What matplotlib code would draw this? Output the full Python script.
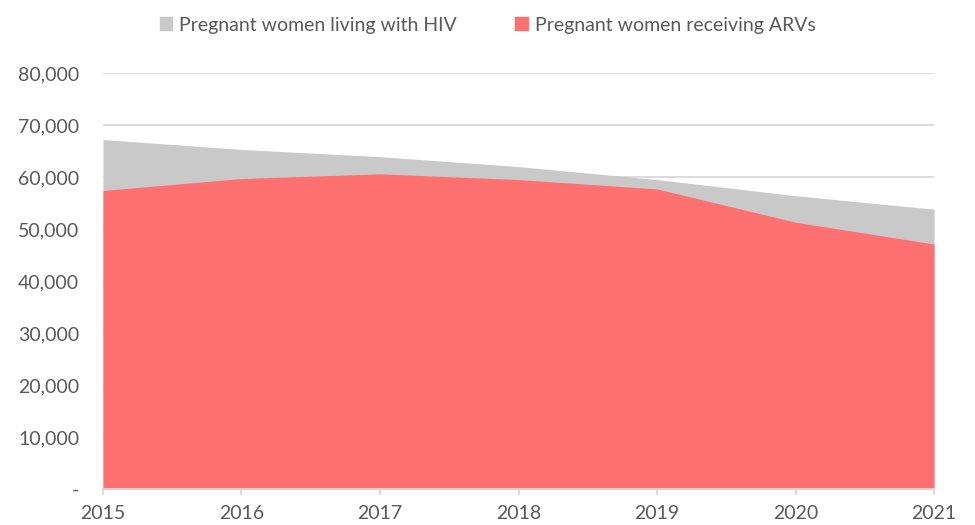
import matplotlib.pyplot as plt
from matplotlib.patches import Patch
from matplotlib.ticker import FuncFormatter

years = [2015, 2016, 2017, 2018, 2019, 2020, 2021]
living_hiv = [67200, 65300, 63900, 62000, 59500, 56400, 53800]
receiving_arv = [57400, 59700, 60600, 59500, 57700, 51300, 47100]
labels = ['Pregnant women living with HIV', 'Pregnant women receiving ARVs']

plt.rcParams['font.family'] = ['Lato', 'DejaVu Sans']
txt = '#595959'
gray = '#c9c9c9'
red = '#ff7070'

fig = plt.figure(figsize=(9.75, 5.25), dpi=100)
ax = fig.add_axes([0.1056, 0.0686, 0.8524, 0.7924])

ax.fill_between(years, living_hiv, color=gray, lw=0, zorder=2)
ax.fill_between(years, receiving_arv, color=red, lw=0, zorder=3)

ax.set_xlim(2015, 2021)
ax.set_ylim(0, 80000)
ax.set_yticks(range(0, 80001, 10000))
ax.yaxis.set_major_formatter(FuncFormatter(lambda v, p: '-' if v == 0 else f'{int(v):,}'))
ax.set_xticks(years)
ax.grid(axis='y', color='#d9d9d9', lw=1.3, zorder=1)

for s in ['top', 'right', 'left']:
    ax.spines[s].set_visible(False)
ax.spines['bottom'].set_color('#d9d9d9')
ax.spines['bottom'].set_linewidth(1.3)
ax.spines['bottom'].set_zorder(4)

ax.tick_params(axis='y', length=0, labelsize=14, labelcolor=txt, pad=17)
ax.tick_params(axis='x', length=4.5, color='#d9d9d9', width=1.3, labelsize=14,
               labelcolor=txt, pad=7)

handles = [Patch(color=gray), Patch(color=red)]
fig.legend(handles, labels, loc='center', bbox_to_anchor=(0.5, 0.952), ncol=2,
           frameon=False, fontsize=14, labelcolor=txt, handlelength=0.65,
           handleheight=0.65, handletextpad=0.35, columnspacing=3.0)

fig.savefig('out.png', dpi=100)
